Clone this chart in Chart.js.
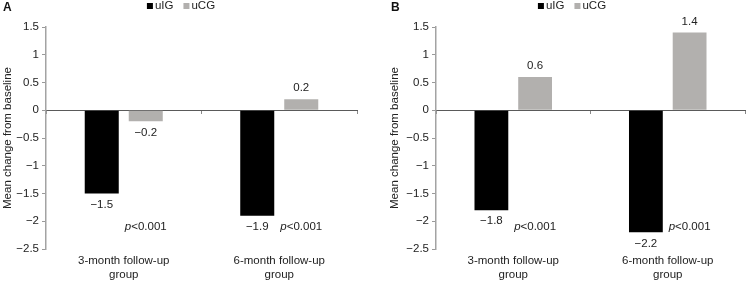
<!DOCTYPE html>
<html>
<head>
<meta charset="utf-8">
<script src="https://cdn.jsdelivr.net/npm/chart.js@4.4.0/dist/chart.umd.min.js"></script>
<style>
html, body { margin: 0; padding: 0; background: #fff; }
#wrap { position: relative; width: 746px; height: 282px; }
.panel { position: absolute; top: 0; width: 373px; height: 282px; }
</style>
</head>
<body>
<div id="wrap">
    <div class="panel" style="left:0"><canvas id="panelA" width="373" height="282"></canvas></div>
    <div class="panel" style="left:373px"><canvas id="panelB" width="373" height="282"></canvas></div>
</div>
<script>
const categorias = [['3-month follow-up', 'group'], ['6-month follow-up', 'group']];
const series = ['uIG', 'uCG'];
const uIG_A = [-1.5, -1.9];
const uCG_A = [-0.2, 0.2];
const uIG_B = [-1.8, -2.2];
const uCG_B = [0.6, 1.4];
const pValores_A = ['<0.001', '<0.001'];
const pValores_B = ['<0.001', '<0.001'];
const yMin = -2.5, yMax = 1.5, yPaso = 0.5;

const fuente = '"Liberation Sans", Arial, sans-serif';
const colores = ['#000000', '#b2b0ae'];
const menos = (v) => String(v).replace('-', '\u2212');

Chart.defaults.font.family = fuente;
Chart.defaults.font.size = 11.5;
Chart.defaults.color = '#222';

// valores sobre/bajo las barras y los p
const etiquetas = {
    id: 'etiquetas',
    afterDatasetsDraw(chart, args, opts) {
        const ctx = chart.ctx;
        ctx.save();
        ctx.fillStyle = '#222';
        ctx.textBaseline = 'middle';
        ctx.font = '11.5px ' + fuente;
        ctx.textAlign = 'center';
        chart.data.datasets.forEach((ds, i) => {
            chart.getDatasetMeta(i).data.forEach((bar, j) => {
                const v = ds.data[j];
                const y = v >= 0 ? bar.y - 11 : bar.y + 11;
                ctx.fillText(menos(v), bar.x, y);
            });
        });
        const yP = chart.scales.y.getPixelForValue(opts.nivelP);
        ctx.textAlign = 'left';
        chart.getDatasetMeta(1).data.forEach((bar, j) => {
            const resto = opts.pValores[j];
            ctx.font = 'italic 11.5px ' + fuente;
            const wp = ctx.measureText('p').width;
            ctx.font = '11.5px ' + fuente;
            const wr = ctx.measureText(resto).width;
            const x = bar.x - (wp + wr) / 2;
            ctx.font = 'italic 11.5px ' + fuente;
            ctx.fillText('p', x, yP);
            ctx.font = '11.5px ' + fuente;
            ctx.fillText(resto, x + wp, yP);
        });
        ctx.restore();
    }
};

// leyenda y letra del panel
const leyenda = {
    id: 'leyenda',
    afterDraw(chart, args, opts) {
        const ctx = chart.ctx;
        ctx.save();
        ctx.font = '11.5px ' + fuente;
        ctx.textBaseline = 'middle';
        ctx.textAlign = 'left';
        const caja = 6, hueco = 2, sep = 10;
        const anchos = chart.data.datasets.map(ds => caja + hueco + ctx.measureText(ds.label).width);
        const total = anchos.reduce((a, b) => a + b, 0) + sep * (anchos.length - 1);
        let x = opts.centroX - total / 2;
        chart.data.datasets.forEach((ds, i) => {
            ctx.fillStyle = ds.backgroundColor;
            ctx.fillRect(x, opts.y - caja / 2, caja, caja);
            ctx.fillStyle = '#222';
            ctx.fillText(ds.label, x + caja + hueco, opts.y);
            x += anchos[i] + sep;
        });
        ctx.font = 'bold 12px ' + fuente;
        ctx.fillStyle = '#111';
        ctx.fillText(opts.letra, opts.letraX, 8);
        ctx.restore();
    }
};

function crearPanel(id, datosIG, datosCG, pValores, cfg) {
    new Chart(document.getElementById(id), {
        type: 'bar',
        data: {
            labels: categorias,
            datasets: [
                { label: series[0], data: datosIG, backgroundColor: colores[0] },
                { label: series[1], data: datosCG, backgroundColor: colores[1] }
            ]
        },
        options: {
            responsive: false,
            animation: false,
            categoryPercentage: 0.566,
            barPercentage: 0.773,
            layout: { padding: { top: 27, right: cfg.derecha, left: cfg.izquierda, bottom: 0 } },
            scales: {
                x: {
                    grid: { display: false, drawTicks: false },
                    border: { display: false },
                    ticks: { padding: 5, maxRotation: 0 },
                    afterFit(s) { s.height = 33; }
                },
                x2: {
                    type: 'category',
                    labels: categorias,
                    position: { y: 0 },
                    offset: true,
                    ticks: { display: false },
                    grid: { drawOnChartArea: false, drawTicks: true, tickLength: 3, color: '#888', offset: true },
                    border: { display: true, color: '#5a5a5a', width: 1 },
                    afterFit(s) { s.height = 0; }
                },
                y: {
                    min: yMin,
                    max: yMax,
                    ticks: { stepSize: yPaso, padding: 3, callback: (v) => menos(v) },
                    grid: { drawOnChartArea: false, drawTicks: true, tickLength: 4, color: '#999' },
                    border: { display: true, color: '#a3a3a3', width: 1.5 },
                    title: { display: true, text: 'Mean change from baseline', padding: 1, font: { size: 11.5 } },
                    afterFit(s) { s.width = cfg.anchoY; }
                }
            },
            plugins: {
                legend: { display: false },
                tooltip: { enabled: false },
                etiquetas: { pValores: pValores, nivelP: -2.1 },
                leyenda: { centroX: cfg.leyendaX, y: 6, letra: cfg.letra, letraX: cfg.letraX }
            }
        },
        plugins: [etiquetas, leyenda]
    });
}

crearPanel('panelA', uIG_A, uCG_A, pValores_A, { izquierda: 0, derecha: 16, anchoY: 46, leyendaX: 181, letra: 'A', letraX: 3 });
crearPanel('panelB', uIG_B, uCG_B, pValores_B, { izquierda: 14, derecha: 1, anchoY: 49, leyendaX: 199, letra: 'B', letraX: 18 });
</script>
</body>
</html>
